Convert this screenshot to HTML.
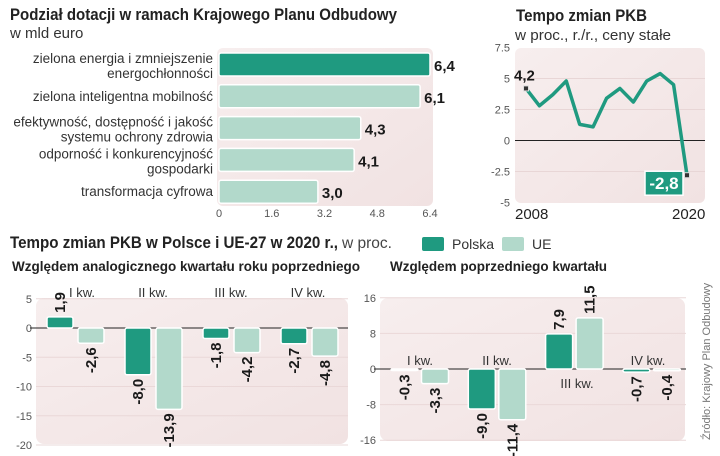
<!DOCTYPE html>
<html><head><meta charset="utf-8">
<style>
html,body{margin:0;padding:0;background:#fff;}
svg{display:block;font-family:"Liberation Sans Narrow","Liberation Sans",sans-serif;}
.t{font-weight:bold;fill:#222;}
.l{fill:#333;}
.v{font-weight:bold;fill:#1a1a1a;font-size:15px;}
.tk{fill:#555;font-size:11px;}
</style></head><body>
<svg id="s" width="720" height="456" viewBox="0 0 720 456" xmlns="http://www.w3.org/2000/svg">
<defs>
<linearGradient id="bg" x1="0" y1="0" x2="1" y2="1">
<stop offset="0" stop-color="#f7eeee"/><stop offset="1" stop-color="#f1e2e2"/>
</linearGradient>
</defs>
<text x="10" y="20" class="t" font-size="17" textLength="387" lengthAdjust="spacingAndGlyphs">Podział dotacji w ramach Krajowego Planu Odbudowy</text>
<text x="10" y="38" class="l" font-size="15">w mld euro</text>
<rect x="217" y="48" width="216" height="158" rx="6" fill="url(#bg)"/>
<g id="hb"></g>

<text x="516" y="21" class="t" font-size="17" textLength="131" lengthAdjust="spacingAndGlyphs">Tempo zmian PKB</text>
<text x="515" y="40" class="l" font-size="15" textLength="156" lengthAdjust="spacingAndGlyphs">w proc., r./r., ceny stałe</text>
<rect x="515" y="48" width="190" height="155" rx="6" fill="url(#bg)"/>
<g id="ln"></g>

<text x="10" y="248" class="t" font-size="17" textLength="328" lengthAdjust="spacingAndGlyphs">Tempo zmian PKB w Polsce i UE-27 w 2020 r.,</text>
<text x="342" y="248" font-size="16" fill="#444" textLength="50" lengthAdjust="spacingAndGlyphs">w proc.</text>
<rect x="422" y="237" width="22" height="14" rx="2" fill="#1f9a80"/>
<text x="452" y="249" class="l" font-size="14">Polska</text>
<rect x="502" y="237" width="22" height="14" rx="2" fill="#b2d9cb"/>
<text x="532" y="249" class="l" font-size="14">UE</text>
<text x="12" y="271" class="t" font-size="14" textLength="348" lengthAdjust="spacingAndGlyphs">Względem analogicznego kwartału roku poprzedniego</text>
<text x="390" y="271" class="t" font-size="14" textLength="217" lengthAdjust="spacingAndGlyphs">Względem poprzedniego kwartału</text>
<rect x="36" y="298" width="312" height="146" rx="8" fill="url(#bg)"/>
<rect x="380" y="298" width="305" height="143" rx="8" fill="url(#bg)"/>
<g id="q1"></g><g id="q2"></g>
<text transform="translate(710,440) rotate(-90)" font-size="11" fill="#777">Źródło: Krajowy Plan Odbudowy</text>
</svg>
<script>
const NS="http://www.w3.org/2000/svg";
// Funds bar chart data
const fundCats=[["zielona energia i zmniejszenie","energochłonności"],["zielona inteligentna mobilność"],["efektywność, dostępność i jakość","systemu ochrony zdrowia"],["odporność i konkurencyjność","gospodarki"],["transformacja cyfrowa"]];
const fundVals=[6.4,6.1,4.3,4.1,3.0];
const fundLabels=["6,4","6,1","4,3","4,1","3,0"];
const fundTicks=["0","1.6","3.2","4.8","6.4"];
// GDP line data
const gdpYears=[2008,2009,2010,2011,2012,2013,2014,2015,2016,2017,2018,2019,2020];
const gdpVals=[4.2,2.8,3.7,4.8,1.3,1.1,3.4,4.2,3.1,4.8,5.4,4.5,-2.8];
const gdpTicks=["7.5","5","2.5","0","-2.5","-5"];
// Quarterly data
const quarters=["I kw.","II kw.","III kw.","IV kw."];
const yoyPL=[1.9,-8.0,-1.8,-2.7];
const yoyUE=[-2.6,-13.9,-4.2,-4.8];
const qoqPL=[-0.3,-9.0,7.9,-0.7];
const qoqUE=[-3.3,-11.4,11.5,-0.4];
const yoyTicks=[5,0,-5,-10,-15,-20];
const qoqTicks=[16,8,0,-8,-16];

function mk(tag,attrs,parent,text){const e=document.createElementNS(NS,tag);for(const k in attrs)e.setAttribute(k,attrs[k]);if(text!==undefined)e.textContent=text;parent.appendChild(e);return e;}
const fmt=v=>v.toFixed(1).replace(".",",");

// Funds chart
(function(){
const g=document.getElementById("hb");
const x=v=>219+v*(211/6.4);
const rowY=i=>53+i*31.8;
fundVals.forEach((v,i)=>{
 const y=rowY(i);
 const r=mk("rect",{x:219,y:y,width:x(v)-219,height:23,rx:2,fill:i==0?"#1f9a80":"#b2d9cb",stroke:"#fff","stroke-width":1.5},g);
 
 
 const t=mk("text",{x:x(v)+4,y:y+18,class:"v","font-size":16},g,fundLabels[i]);
 
 
 const lines=fundCats[i];
 lines.forEach((s,j)=>{
  const yy=lines.length==1?y+16:y+10+j*15;
  const c=mk("text",{x:213,y:yy,"text-anchor":"end",class:"l","font-size":13.5},g,s);
  
  
 });
});
fundTicks.forEach((s,i)=>{
 const t=mk("text",{x:x(i*1.6),y:217,"text-anchor":"middle",class:"tk","font-size":10},g,s);
 
 
});
})();

// GDP line
(function(){
const g=document.getElementById("ln");
const y=v=>140.5-v*12.4;
const x=yr=>526+(yr-2008)*(161/12);
gdpTicks.forEach(s=>{
 const v=parseFloat(s);
 if(v!==0&&v<7.5&&v>-5){const gl=mk("line",{x1:515,x2:705,y1:y(v),y2:y(v),stroke:"#e8d6d6","stroke-width":1},g);}
 const t=mk("text",{x:510,y:y(v)+4,"text-anchor":"end",class:"tk"},g,s);
 
 
});
const z=mk("line",{x1:515,x2:705,y1:y(0),y2:y(0),stroke:"#222","stroke-width":1},g);


const p=mk("polyline",{points:gdpVals.map((v,i)=>x(gdpYears[i])+","+y(v)).join(" "),fill:"none",stroke:"#1f9a80","stroke-width":3.5,"stroke-linejoin":"round"},g);


const n=gdpVals.length-1;
[0,n].forEach(i=>{
 const m=mk("rect",{x:x(gdpYears[i])-2.5,y:y(gdpVals[i])-2.5,width:5,height:5,fill:"#333",stroke:"#ddd"},g);
 
 
});
const a=mk("text",{x:x(gdpYears[0])-12,y:y(gdpVals[0])-8,class:"v","font-size":17},g,fmt(gdpVals[0]));


const bx=x(gdpYears[n])-42,by=y(gdpVals[n])-4;
const b=mk("rect",{x:bx,y:by,width:38,height:24,fill:"#1f9a80",stroke:"#fff","stroke-width":1.5},g);


const bt=mk("text",{x:bx+19,y:by+18,"text-anchor":"middle","font-weight":"bold","font-size":17,fill:"#fff"},g,fmt(gdpVals[n]));


[[0,515],[n,672]].forEach(([i,xx])=>{
 const t=mk("text",{x:xx,y:219,"font-size":15,fill:"#222"},g,String(gdpYears[i]));
 
 
});
})();

// Quarterly charts
function qchart(id,pl,ue,ticks,zeroY,scale,x0,x1,firstBar,step,bw,gap,labelPos,pre){
 const g=document.getElementById(id);
 const y=v=>zeroY-v*scale;
 ticks.forEach(v=>{
  if(v!==0){const gl=mk("line",{x1:x0,x2:x1,y1:y(v),y2:y(v),stroke:"#ead8d8"},g);}
  const t=mk("text",{x:x0-4,y:y(v)+4,"text-anchor":"end",class:"tk","font-size":12},g,String(v));
  
  
 });
 const z=mk("line",{x1:x0-6,x2:x1,y1:y(0),y2:y(0),stroke:"#222"},g);
 
 
 quarters.forEach((q,i)=>{
  [[pl[i],"#1f9a80","polska"],[ue[i],"#b2d9cb","ue"]].forEach(([v,c,nm],j)=>{
   const bx=firstBar+i*step+j*(bw+gap);
   const top=Math.min(y(v),y(0)),h=Math.max(Math.abs(y(v)-y(0)),1.5);
   const r=mk("rect",{x:bx,y:top,width:bw,height:h,rx:2,fill:c,stroke:"#fff","stroke-width":1.5},g);
   
   
   const cx=bx+bw/2+5;
   const ly=v>=0?y(v)-4:y(v)+4;
   const t=mk("text",{transform:"translate("+cx+","+ly+") rotate(-90)","text-anchor":v>=0?"start":"end",class:"v"},g,fmt(v));
   
   
  });
  const lp=labelPos[i];
  const t=mk("text",{x:lp[0],y:lp[1],"text-anchor":"middle",class:"l","font-size":13},g,q);
  
  
 });
}
qchart("q1",yoyPL,yoyUE,yoyTicks,328,5.85,36,348,47,78,26,5,[[82,297],[153,297],[231,297],[308,297]],"yoy");
qchart("q2",qoqPL,qoqUE,qoqTicks,369,4.45,380,686,391,77.3,27,3.5,[[420,365],[497,365],[577,388],[648,365]],"qoq");
</script>
</body></html>
